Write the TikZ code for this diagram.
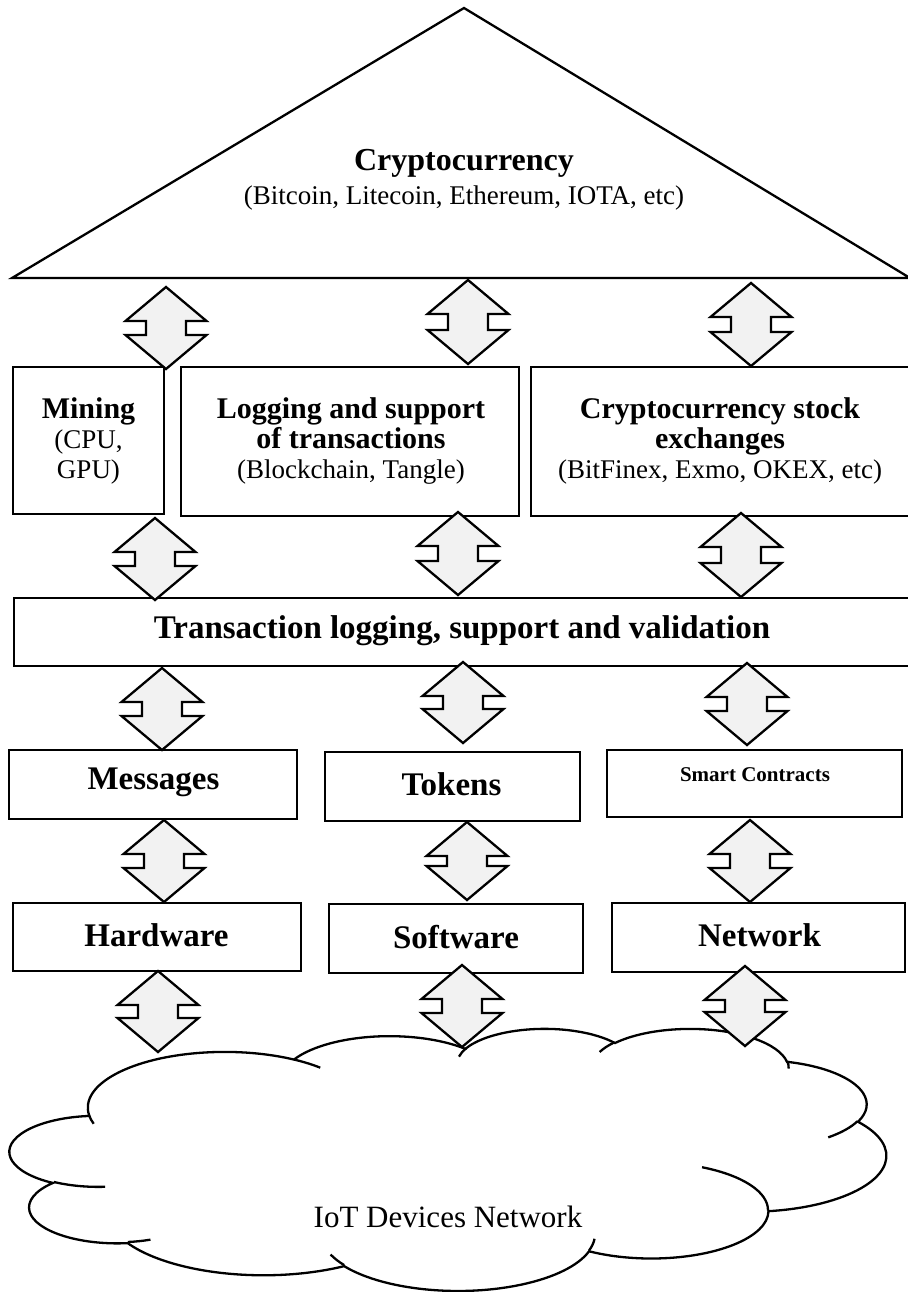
\documentclass[tikz,border=0pt]{standalone}
\usepackage{fontspec}
\setmainfont{Liberation Serif}
\definecolor{arrowgray}{HTML}{F2F2F2}
\newcommand\vispar[4]{%
  \pgfmathsetmacro\vpd{atan2(sin(#2)/(#4),cos(#2)/(#3))-(#2)}%
  \pgfmathsetmacro\vpd{\vpd-360*round(\vpd/360)}%
  \pgfmathsetmacro#1{(#2)+\vpd}%
}
\newcommand\ooarc[5]{%
  \vispar\oos{#4}{#2}{#3}%
  \pgfmathsetmacro\ooe{(#4)+(#5)}%
  \vispar\ooe{\ooe}{#2}{#3}%
  \expandafter\xdef\csname ooarc#1\endcsname{arc[x radius=#2,y radius=#3,start angle=\oos,end angle=\ooe]}%
}
\newcommand\udarrow[3]{%
  \draw[arr] (#1,#2) -- ++(40.5,34) -- ++(-20.5,0) -- (#1+20,#3-34) -- ++(20.5,0)
    -- (#1,#3) -- ++(-40.5,-34) -- ++(20.5,0) -- (#1-20,#2+34) -- ++(-20.5,0) -- cycle;
}
\newcommand\bsz{\fontsize{30}{30}\selectfont\bfseries}
\newcommand\rsz{\fontsize{27}{30}\selectfont\mdseries}
\begin{document}
\begin{tikzpicture}[x=1pt,y=1pt,yscale=-1,
  box/.style={draw,line width=2.3,fill=white,inner sep=0pt},
  arr/.style={draw,line width=2.3,fill=arrowgray,line join=miter},
  cloudshape/.style={draw,line width=2.3,fill=white},
  cloudline/.style={draw,line width=2.3},
  bl/.style={font=\fontsize{33}{36}\selectfont\bfseries,inner sep=0pt,align=center},
  ml/.style={font=\fontsize{27}{30}\selectfont,inner sep=0pt,align=center},
  rg/.style={font=\fontsize{27}{30}\selectfont,inner sep=0pt,align=center}]
\useasboundingbox (0,0) rectangle (907,1292);
% cloud arcs (outer path)
\ooarc{A}{6.753}{9.190}{-190.4875}{123.7805}
\ooarc{B}{5.333}{7.267}{-144.1024}{89.9452}
\ooarc{C}{4.365}{5.945}{-145.8079}{99.7230}
\ooarc{D}{4.857}{6.595}{-130.9861}{117.2417}
\ooarc{E}{5.333}{7.273}{-78.7089}{109.0269}
\ooarc{F}{6.775}{9.220}{-46.2673}{130.2690}
\ooarc{G}{5.785}{7.867}{0.6250}{114.0333}
\ooarc{H}{6.752}{9.215}{22.4516}{115.1726}
\ooarc{I}{7.720}{10.543}{66.2426}{75.7110}
\ooarc{J}{4.360}{5.918}{-274.9421}{146.7356}
\ooarc{K}{4.345}{5.945}{-246.8285}{152.5189}
% cloud inner arcs
\ooarc{L}{4.345}{5.945}{86.7420}{26.4295}
\ooarc{M}{4.360}{5.918}{73.6105}{11.4475}
\ooarc{N}{6.752}{9.215}{137.6242}{14.0811}
\ooarc{O}{6.752}{9.215}{6.4533}{15.9984}
\ooarc{P}{5.785}{7.867}{-70.2924}{70.9174}
\ooarc{Q}{5.333}{7.273}{30.3180}{27.7515}
\ooarc{R}{4.857}{6.595}{-13.7443}{14.8589}
\ooarc{S}{4.857}{6.595}{-149.1815}{18.1954}
\ooarc{T}{4.365}{5.945}{-163.4943}{17.6864}
\ooarc{U}{6.753}{9.190}{-66.7070}{12.3194}
\ooarc{V}{6.753}{9.190}{157.6544}{11.8582}

% top triangle
\coordinate (triL) at (12,278);
\coordinate (triT) at (464,8);
\coordinate (triR) at (910,278);
\draw[box,line join=miter] (triL) -- (triT) -- (triR) -- cycle;
\node[bl,font=\fontsize{32}{36}\selectfont\bfseries] (crypto) at (464,163) {Cryptocurrency};
\node[rg] (cryptosub) at (464,198) {(Bitcoin, Litecoin, Ethereum, IOTA, etc)};

% row 1 boxes
\node[box,minimum width=151,minimum height=147] (mining) at (88.5,440.5) {};
\node[box,minimum width=338,minimum height=149] (logging) at (350,441.5) {};
\node[box,minimum width=384,minimum height=149] (exch) at (723,441.5) {};
\node[ml] (miningt) at (88.5,441) {{\bsz Mining}\\{\rsz (CPU,}\\{\rsz GPU)}};
\node[ml] (loggingt) at (351,441) {{\bsz Logging and support}\\{\bsz of transactions}\\{\rsz (Blockchain, Tangle)}};
\node[ml] (excht) at (720,441) {{\bsz Cryptocurrency stock}\\{\bsz exchanges}\\{\rsz (BitFinex, Exmo, OKEX, etc)}};

% transaction bar
\node[box,minimum width=901,minimum height=68] (trans) at (464.5,632) {};
\node[bl] (transt) at (462,631) {Transaction logging, support and validation};

% row 3 boxes
\node[box,minimum width=288,minimum height=69] (msg) at (153,784.5) {};
\node[box,minimum width=255,minimum height=69] (tok) at (452.5,786.5) {};
\node[box,minimum width=295,minimum height=67] (smart) at (754.5,783.5) {};
\node[bl] (msgt) at (153.5,782) {Messages};
\node[bl] (tokt) at (451.5,784) {Tokens};
\node[bl,font=\fontsize{21}{24}\selectfont\bfseries] (smartt) at (755,775) {Smart Contracts};

% row 4 boxes
\node[box,minimum width=288,minimum height=68] (hw) at (157,937) {};
\node[box,minimum width=254,minimum height=69] (sw) at (456,938.5) {};
\node[box,minimum width=293,minimum height=69] (net) at (758.5,937.5) {};
\node[bl] (hwt) at (156.5,935) {Hardware};
\node[bl] (swt) at (456,937) {Software};
\node[bl] (nett) at (759.5,935) {Network};

% cloud
\begin{scope}[shift={(10,1028)},xscale=20.278,yscale=6.065]
\draw[cloudshape] (3.9,14.37) \ooarcA \ooarcB \ooarcC \ooarcD \ooarcE \ooarcF \ooarcG \ooarcH \ooarcI \ooarcJ \ooarcK -- cycle;
\draw[cloudline] (4.693,26.177) \ooarcL (6.928,34.899) \ooarcM (16.478,39.090) \ooarcN
  (28.827,34.751) \ooarcO (34.129,22.954) \ooarcP (41.798,15.354) \ooarcQ
  (38.324,5.426) \ooarcR (29.078,3.952) \ooarcS (22.141,4.720) \ooarcT
  (14.000,5.192) \ooarcU (4.127,15.789) \ooarcV;
\end{scope}
\node[font=\fontsize{31}{34}\selectfont,inner sep=0pt] (iot) at (448,1217) {IoT Devices Network};

% double arrows
\udarrow{166}{287}{369}
\udarrow{468}{280}{364}
\udarrow{751}{283}{366}
\udarrow{155}{518}{600}
\udarrow{458}{512}{595}
\udarrow{741}{513}{597}
\udarrow{162}{668}{750}
\udarrow{463}{662}{743}
\udarrow{747}{663}{745}
\udarrow{164}{820}{902}
\udarrow{467}{822}{900}
\udarrow{750}{820}{902}
\udarrow{158}{971}{1052}
\udarrow{462}{965}{1047}
\udarrow{745}{966}{1046}
\end{tikzpicture}
\end{document}
